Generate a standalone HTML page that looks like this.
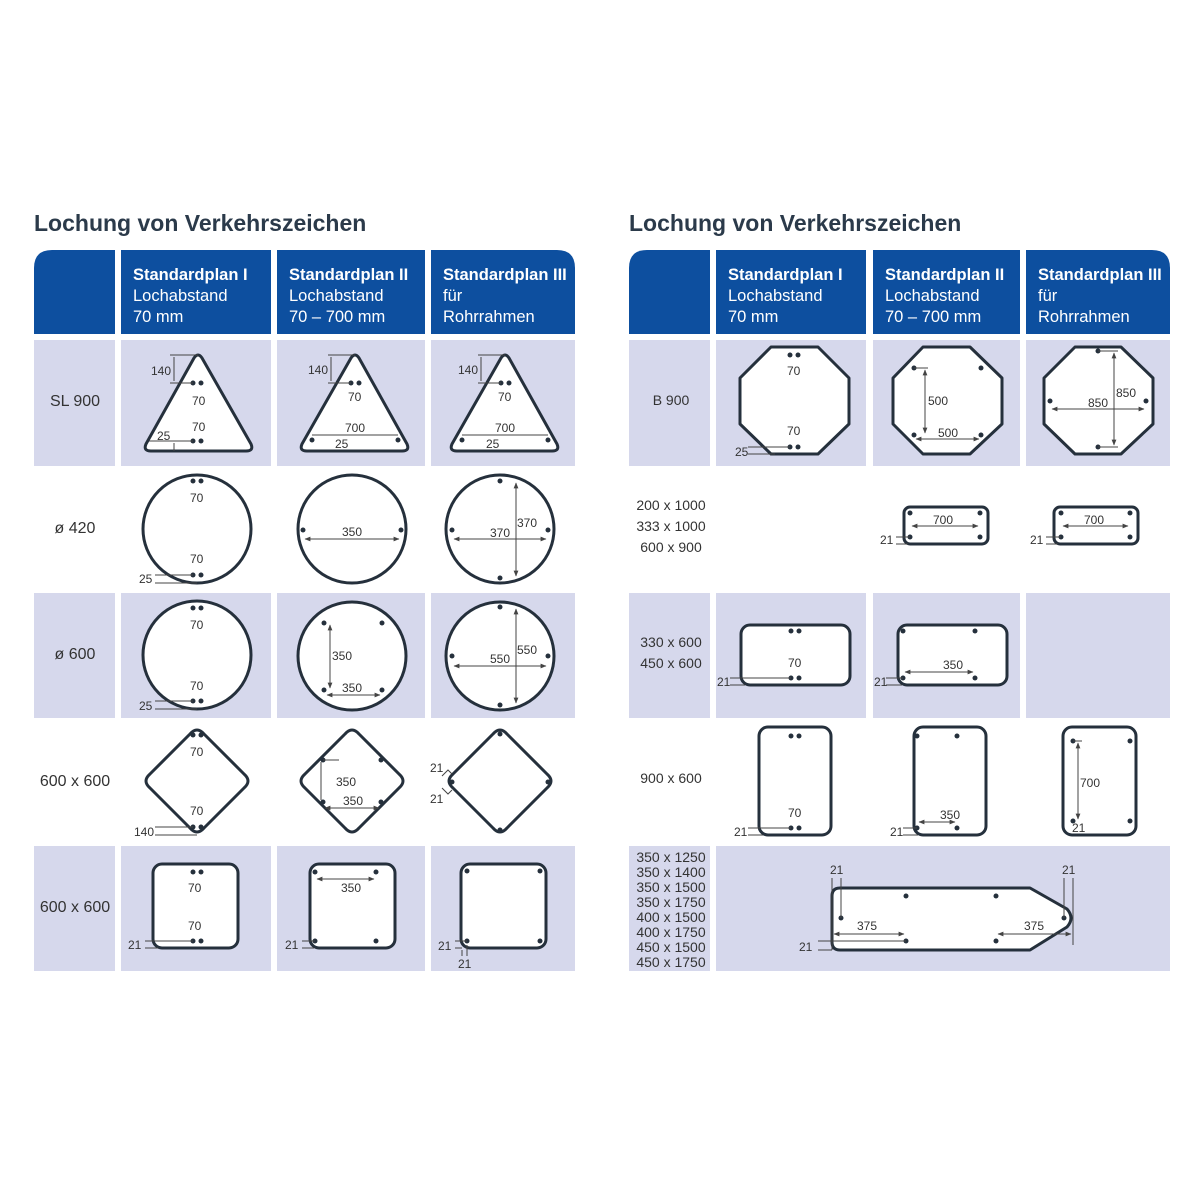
<!DOCTYPE html>
<html><head><meta charset="utf-8"><style>
html,body{margin:0;padding:0;background:#fff}
svg{display:block}
text{font-family:"Liberation Sans",sans-serif}
.d{font-size:12px;fill:#333}
.s{fill:#fff;stroke:#25303c;stroke-width:3;stroke-linejoin:round}
.l{stroke:#444;stroke-width:1;fill:none}
.h{fill:#fff;font-size:16.5px}
.hb{fill:#fff;font-size:16.5px;font-weight:bold}
.lab{font-size:16px;fill:#333}
.labr{font-size:14px;fill:#333}
</style></head><body>
<svg width="1200" height="1196" viewBox="0 0 1200 1196" xmlns="http://www.w3.org/2000/svg">
<defs>
<marker id="a" viewBox="0 0 10 10" refX="9" refY="5" markerWidth="6" markerHeight="6" orient="auto-start-reverse"><path d="M0,1 L10,5 L0,9z" fill="#444"/></marker>
</defs>
<text x="34" y="231" font-size="23" font-weight="bold" fill="#2b3a4a">Lochung von Verkehrszeichen</text>
<text x="629" y="231" font-size="23" font-weight="bold" fill="#2b3a4a">Lochung von Verkehrszeichen</text>

<g fill="#0d4f9f">
<path d="M34,334 V268 Q34,250 52,250 H115 V334z"/>
<rect x="121" y="250" width="150" height="84"/>
<rect x="277" y="250" width="148" height="84"/>
<path d="M431,250 H557 Q575,250 575,268 V334 H431z"/>
<path d="M629,334 V268 Q629,250 647,250 H710 V334z"/>
<rect x="716" y="250" width="150" height="84"/>
<rect x="873" y="250" width="147" height="84"/>
<path d="M1026,250 H1152 Q1170,250 1170,268 V334 H1026z"/>
</g>
<g>
<text x="133" y="280" class="hb">Standardplan I</text><text x="133" y="301" class="h">Lochabstand</text><text x="133" y="322" class="h">70 mm</text>
<text x="289" y="280" class="hb">Standardplan II</text><text x="289" y="301" class="h">Lochabstand</text><text x="289" y="322" class="h">70 – 700 mm</text>
<text x="443" y="280" class="hb">Standardplan III</text><text x="443" y="301" class="h">für</text><text x="443" y="322" class="h">Rohrrahmen</text>
<text x="728" y="280" class="hb">Standardplan I</text><text x="728" y="301" class="h">Lochabstand</text><text x="728" y="322" class="h">70 mm</text>
<text x="885" y="280" class="hb">Standardplan II</text><text x="885" y="301" class="h">Lochabstand</text><text x="885" y="322" class="h">70 – 700 mm</text>
<text x="1038" y="280" class="hb">Standardplan III</text><text x="1038" y="301" class="h">für</text><text x="1038" y="322" class="h">Rohrrahmen</text>
</g>

<g fill="#d6d8ec">
<rect x="34" y="340" width="81" height="126"/><rect x="121" y="340" width="150" height="126"/><rect x="277" y="340" width="148" height="126"/><rect x="431" y="340" width="144" height="126"/>
<rect x="34" y="593" width="81" height="125"/><rect x="121" y="593" width="150" height="125"/><rect x="277" y="593" width="148" height="125"/><rect x="431" y="593" width="144" height="125"/>
<rect x="34" y="846" width="81" height="125"/><rect x="121" y="846" width="150" height="125"/><rect x="277" y="846" width="148" height="125"/><rect x="431" y="846" width="144" height="125"/>
<rect x="629" y="340" width="81" height="126"/><rect x="716" y="340" width="150" height="126"/><rect x="873" y="340" width="147" height="126"/><rect x="1026" y="340" width="144" height="126"/>
<rect x="629" y="593" width="81" height="125"/><rect x="716" y="593" width="150" height="125"/><rect x="873" y="593" width="147" height="125"/><rect x="1026" y="593" width="144" height="125"/>
<rect x="629" y="846" width="81" height="125"/><rect x="716" y="846" width="454" height="125"/>
</g>

<g text-anchor="middle">
<text x="75" y="406" class="lab">SL 900</text>
<text x="75" y="533" class="lab">ø 420</text>
<text x="75" y="659" class="lab">ø 600</text>
<text x="75" y="786" class="lab">600 x 600</text>
<text x="75" y="912" class="lab">600 x 600</text>
<text x="671" y="405" class="labr">B 900</text>
<text x="671" y="510" class="labr">200 x 1000</text><text x="671" y="531" class="labr">333 x 1000</text><text x="671" y="552" class="labr">600 x 900</text>
<text x="671" y="647" class="labr">330 x 600</text><text x="671" y="668" class="labr">450 x 600</text>
<text x="671" y="783" class="labr">900 x 600</text>
<text x="671" y="862" class="labr">350 x 1250</text><text x="671" y="877" class="labr">350 x 1400</text><text x="671" y="892" class="labr">350 x 1500</text><text x="671" y="907" class="labr">350 x 1750</text><text x="671" y="922" class="labr">400 x 1500</text><text x="671" y="937" class="labr">400 x 1750</text><text x="671" y="952" class="labr">450 x 1500</text><text x="671" y="967" class="labr">450 x 1750</text>
</g>

<path class="s" d="M194,358 Q198,352 202,358 L251,444 Q254,451 246,451 H151 Q143,451 146,444z"/>
<path class="s" d="M351,358 Q355,352 359,358 L407,444 Q410,451 402,451 H307 Q299,451 302,444z"/>
<path class="s" d="M501,358 Q505,352 509,358 L557,444 Q560,451 552,451 H457 Q449,451 452,444z"/>
<g fill="#25303c">
<circle cx="193" cy="383" r="2.5"/><circle cx="201" cy="383" r="2.5"/><circle cx="193" cy="441" r="2.5"/><circle cx="201" cy="441" r="2.5"/>
<circle cx="351" cy="383" r="2.5"/><circle cx="359" cy="383" r="2.5"/><circle cx="312" cy="440" r="2.5"/><circle cx="398" cy="440" r="2.5"/>
<circle cx="501" cy="383" r="2.5"/><circle cx="509" cy="383" r="2.5"/><circle cx="462" cy="440" r="2.5"/><circle cx="548" cy="440" r="2.5"/>
</g>
<g class="l">
<path d="M170,355 H198 M170,383 H193 M174,357 V381"/><path d="M149,441 H193 M174,443 V451"/>
<path d="M328,355 H355 M328,383 H351 M331,357 V381"/><path d="M312,435 H398"/>
<path d="M478,355 H505 M478,383 H501 M481,357 V381"/><path d="M462,435 H548"/>
</g>
<g class="d">
<text x="151" y="375">140</text><text x="192" y="405">70</text><text x="192" y="431">70</text><text x="157" y="440">25</text>
<text x="308" y="374">140</text><text x="348" y="401">70</text><text x="345" y="432">700</text><text x="335" y="448">25</text>
<text x="458" y="374">140</text><text x="498" y="401">70</text><text x="495" y="432">700</text><text x="486" y="448">25</text>
</g>

<g class="s">
<circle cx="197" cy="529" r="54"/><circle cx="352" cy="529" r="54"/><circle cx="500" cy="529" r="54"/>
<circle cx="197" cy="655" r="54"/><circle cx="352" cy="656" r="54"/><circle cx="500" cy="656" r="54"/>
</g>
<g fill="#25303c">
<circle cx="193" cy="481" r="2.5"/><circle cx="201" cy="481" r="2.5"/><circle cx="193" cy="575" r="2.5"/><circle cx="201" cy="575" r="2.5"/>
<circle cx="303" cy="530" r="2.5"/><circle cx="401" cy="530" r="2.5"/>
<circle cx="500" cy="481" r="2.5"/><circle cx="500" cy="578" r="2.5"/><circle cx="452" cy="530" r="2.5"/><circle cx="548" cy="530" r="2.5"/>
<circle cx="193" cy="608" r="2.5"/><circle cx="201" cy="608" r="2.5"/><circle cx="193" cy="701" r="2.5"/><circle cx="201" cy="701" r="2.5"/>
<circle cx="324" cy="623" r="2.5"/><circle cx="382" cy="623" r="2.5"/><circle cx="324" cy="690" r="2.5"/><circle cx="382" cy="690" r="2.5"/>
<circle cx="500" cy="607" r="2.5"/><circle cx="500" cy="705" r="2.5"/><circle cx="452" cy="656" r="2.5"/><circle cx="548" cy="656" r="2.5"/>
</g>
<g class="l">
<path d="M305,539 H399" marker-start="url(#a)" marker-end="url(#a)"/>
<path d="M516,483 V576" marker-start="url(#a)" marker-end="url(#a)"/><path d="M454,539 H546" marker-start="url(#a)" marker-end="url(#a)"/>
<path d="M330,625 V688" marker-start="url(#a)" marker-end="url(#a)"/><path d="M327,695 H380" marker-start="url(#a)" marker-end="url(#a)"/>
<path d="M516,609 V703" marker-start="url(#a)" marker-end="url(#a)"/><path d="M454,666 H546" marker-start="url(#a)" marker-end="url(#a)"/>
<path d="M155,575 H193 M155,583 H197"/><path d="M155,701 H193 M155,709 H197"/>
</g>
<g class="d">
<text x="190" y="502">70</text><text x="190" y="563">70</text><text x="139" y="583">25</text>
<text x="342" y="536">350</text><text x="517" y="527">370</text><text x="490" y="537">370</text>
<text x="190" y="629">70</text><text x="190" y="690">70</text><text x="139" y="710">25</text>
<text x="332" y="660">350</text><text x="342" y="692">350</text><text x="517" y="654">550</text><text x="490" y="663">550</text>
</g>

<g class="s">
<path d="M190,734 Q197,726 204,734 L244,774 Q252,781 244,788 L204,828 Q197,836 190,828 L150,788 Q142,781 150,774z"/>
<path d="M345,734 Q352,726 359,734 L399,774 Q407,781 399,788 L359,828 Q352,836 345,828 L305,788 Q297,781 305,774z"/>
<path d="M493,734 Q500,726 507,734 L547,774 Q555,781 547,788 L507,828 Q500,836 493,828 L453,788 Q445,781 453,774z"/>
</g>
<g fill="#25303c">
<circle cx="193" cy="735" r="2.5"/><circle cx="201" cy="735" r="2.5"/><circle cx="193" cy="827" r="2.5"/><circle cx="201" cy="827" r="2.5"/>
<circle cx="323" cy="760" r="2.5"/><circle cx="381" cy="760" r="2.5"/><circle cx="323" cy="802" r="2.5"/><circle cx="381" cy="802" r="2.5"/>
<circle cx="500" cy="734" r="2.5"/><circle cx="500" cy="830" r="2.5"/><circle cx="452" cy="782" r="2.5"/><circle cx="548" cy="782" r="2.5"/>
</g>
<g class="l"><path d="M155,827 H193 M155,835 H197"/><path d="M323,760 H339 M321,762 V800"/><path d="M325,808 H379" marker-start="url(#a)" marker-end="url(#a)"/><path d="M442,776 L448,770 L452,774 M442,788 L448,794 L452,790"/></g>
<g class="d"><text x="190" y="756">70</text><text x="190" y="815">70</text><text x="134" y="836">140</text><text x="336" y="786">350</text><text x="343" y="805">350</text><text x="430" y="772">21</text><text x="430" y="803">21</text></g>

<g class="s"><rect x="153" y="864" width="85" height="84" rx="9"/><rect x="310" y="864" width="85" height="84" rx="9"/><rect x="461" y="864" width="85" height="84" rx="9"/></g>
<g fill="#25303c">
<circle cx="193" cy="872" r="2.5"/><circle cx="201" cy="872" r="2.5"/><circle cx="193" cy="941" r="2.5"/><circle cx="201" cy="941" r="2.5"/>
<circle cx="315" cy="872" r="2.5"/><circle cx="376" cy="872" r="2.5"/><circle cx="315" cy="941" r="2.5"/><circle cx="376" cy="941" r="2.5"/>
<circle cx="467" cy="871" r="2.5"/><circle cx="540" cy="871" r="2.5"/><circle cx="467" cy="941" r="2.5"/><circle cx="540" cy="941" r="2.5"/>
</g>
<g class="l"><path d="M145,941 H193 M145,948 H158"/><path d="M317,879 H374" marker-start="url(#a)" marker-end="url(#a)"/><path d="M302,941 H315 M302,948 H314"/><path d="M455,941 H467 M455,948 H462 M462,950 V956 M467,945 V956"/></g>
<g class="d"><text x="188" y="892">70</text><text x="188" y="930">70</text><text x="128" y="949">21</text><text x="341" y="892">350</text><text x="285" y="949">21</text><text x="438" y="950">21</text><text x="458" y="968">21</text></g>

<g class="s">
<path d="M771,347 H818 L849,378 V424 L818,454 H771 L740,424 V378z"/>
<path d="M923,347 H970 L1002,378 V424 L970,454 H923 L893,424 V378z"/>
<path d="M1075,347 H1121 L1153,378 V424 L1121,454 H1075 L1044,424 V378z"/>
</g>
<g fill="#25303c">
<circle cx="790" cy="355" r="2.5"/><circle cx="798" cy="355" r="2.5"/><circle cx="790" cy="447" r="2.5"/><circle cx="798" cy="447" r="2.5"/>
<circle cx="914" cy="368" r="2.5"/><circle cx="981" cy="368" r="2.5"/><circle cx="914" cy="435" r="2.5"/><circle cx="981" cy="435" r="2.5"/>
<circle cx="1098" cy="351" r="2.5"/><circle cx="1098" cy="447" r="2.5"/><circle cx="1050" cy="401" r="2.5"/><circle cx="1146" cy="401" r="2.5"/>
</g>
<g class="l">
<path d="M748,447 H790 M748,454 H775"/>
<path d="M914,368 H928"/><path d="M925,370 V433" marker-start="url(#a)" marker-end="url(#a)"/><path d="M916,439 H979" marker-start="url(#a)" marker-end="url(#a)"/>
<path d="M1098,351 H1118 M1098,447 H1118"/><path d="M1114,353 V445" marker-start="url(#a)" marker-end="url(#a)"/><path d="M1052,409 H1144" marker-start="url(#a)" marker-end="url(#a)"/>
</g>
<g class="d"><text x="787" y="375">70</text><text x="787" y="435">70</text><text x="735" y="456">25</text>
<text x="928" y="405">500</text><text x="938" y="437">500</text><text x="1116" y="397">850</text><text x="1088" y="407">850</text></g>

<g class="s"><rect x="904" y="507" width="84" height="37" rx="6"/><rect x="1054" y="507" width="84" height="37" rx="6"/>
<rect x="741" y="625" width="109" height="60" rx="9"/><rect x="898" y="625" width="109" height="60" rx="9"/>
<rect x="759" y="727" width="72" height="108" rx="9"/><rect x="914" y="727" width="72" height="108" rx="9"/><rect x="1063" y="727" width="73" height="108" rx="9"/>
<path d="M840,888 H1030 L1067,909 Q1075,918 1067,927 L1030,950 H840 Q832,950 832,942 V896 Q832,888 840,888z"/>
</g>
<g fill="#25303c">
<circle cx="910" cy="513" r="2.5"/><circle cx="980" cy="513" r="2.5"/><circle cx="910" cy="537" r="2.5"/><circle cx="980" cy="537" r="2.5"/>
<circle cx="1061" cy="513" r="2.5"/><circle cx="1130" cy="513" r="2.5"/><circle cx="1061" cy="537" r="2.5"/><circle cx="1130" cy="537" r="2.5"/>
<circle cx="791" cy="631" r="2.5"/><circle cx="799" cy="631" r="2.5"/><circle cx="791" cy="678" r="2.5"/><circle cx="799" cy="678" r="2.5"/>
<circle cx="903" cy="631" r="2.5"/><circle cx="975" cy="631" r="2.5"/><circle cx="903" cy="678" r="2.5"/><circle cx="975" cy="678" r="2.5"/>
<circle cx="791" cy="736" r="2.5"/><circle cx="799" cy="736" r="2.5"/><circle cx="791" cy="828" r="2.5"/><circle cx="799" cy="828" r="2.5"/>
<circle cx="917" cy="736" r="2.5"/><circle cx="957" cy="736" r="2.5"/><circle cx="917" cy="828" r="2.5"/><circle cx="957" cy="828" r="2.5"/>
<circle cx="1073" cy="741" r="2.5"/><circle cx="1130" cy="741" r="2.5"/><circle cx="1073" cy="821" r="2.5"/><circle cx="1130" cy="821" r="2.5"/>
<circle cx="841" cy="918" r="2.5"/><circle cx="906" cy="896" r="2.5"/><circle cx="996" cy="896" r="2.5"/><circle cx="906" cy="941" r="2.5"/><circle cx="996" cy="941" r="2.5"/><circle cx="1064" cy="918" r="2.5"/>
</g>
<g class="l">
<path d="M912,526 H978" marker-start="url(#a)" marker-end="url(#a)"/><path d="M1063,526 H1128" marker-start="url(#a)" marker-end="url(#a)"/>
<path d="M896,537 H910 M896,544 H908"/><path d="M1046,537 H1061 M1046,544 H1058"/>
<path d="M730,678 H791 M730,685 H745"/><path d="M886,678 H903 M886,685 H902"/><path d="M905,672 H973" marker-start="url(#a)" marker-end="url(#a)"/>
<path d="M748,828 H791 M748,835 H763"/><path d="M903,828 H917 M903,835 H918"/><path d="M919,822 H955" marker-start="url(#a)" marker-end="url(#a)"/>
<path d="M1073,741 H1082"/><path d="M1078,743 V819" marker-start="url(#a)" marker-end="url(#a)"/>
<path d="M832,878 V950 M841,878 V918 M1073,878 V945 M1064,878 V918"/><path d="M834,934 H904" marker-start="url(#a)" marker-end="url(#a)"/><path d="M998,934 H1071" marker-start="url(#a)" marker-end="url(#a)"/><path d="M818,941 H906 M818,950 H832"/>
</g>
<g class="d">
<text x="933" y="524">700</text><text x="1084" y="524">700</text><text x="880" y="544">21</text><text x="1030" y="544">21</text>
<text x="788" y="667">70</text><text x="717" y="686">21</text><text x="943" y="669">350</text><text x="874" y="686">21</text>
<text x="788" y="817">70</text><text x="734" y="836">21</text><text x="940" y="819">350</text><text x="890" y="836">21</text><text x="1080" y="787">700</text><text x="1072" y="832">21</text>
<text x="830" y="874">21</text><text x="1062" y="874">21</text><text x="857" y="930">375</text><text x="1024" y="930">375</text><text x="799" y="951">21</text>
</g>
</svg>
</body></html>
